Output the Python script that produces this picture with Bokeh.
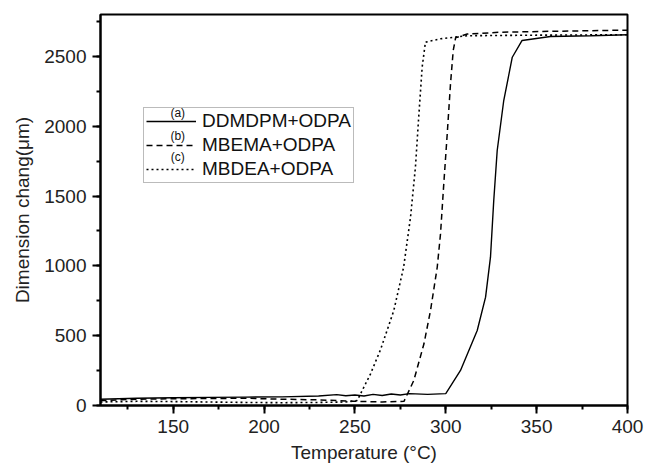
from bokeh.plotting import figure
from bokeh.models import SingleIntervalTicker, Range1d, Legend, LegendItem, Label
from bokeh.embed import file_html
from bokeh.resources import INLINE

# ---- data ----
temp_a = [110, 130, 150, 170, 190, 210, 230, 240, 245, 250, 255, 260, 265, 270, 275, 280, 290, 300,
          308.1, 317.3, 321.9, 324.6, 326.4, 328.3, 331.9, 336.6, 342, 357.6, 380, 400]
dim_a = [45, 52, 55, 58, 60, 62, 68, 78, 70, 75, 68, 80, 72, 82, 75, 85, 80, 85,
         251, 537, 776, 1062, 1468, 1826, 2184, 2494, 2614, 2642, 2648, 2655]

temp_b = [110, 130, 150, 170, 190, 210, 230, 250, 265, 277, 282.4, 288, 291.6, 295.3, 297.1, 298.9,
          300.8, 302.6, 304.1, 305.4, 311.8, 330, 360, 400]
dim_b = [35, 45, 48, 50, 52, 45, 40, 30, 25, 30, 179, 442, 680, 990, 1229, 1587,
         1945, 2303, 2542, 2633, 2660, 2673, 2680, 2688]

temp_c = [110, 130, 150, 170, 190, 210, 230, 245, 251.3, 258.6, 264.1, 271.4, 276.8, 280.6, 283.3,
          285.1, 287, 288.8, 297.1, 311.8, 350, 400]
dim_c = [25, 30, 28, 25, 22, 20, 22, 25, 36, 227, 400, 680, 990, 1348, 1706,
         2064, 2422, 2602, 2626, 2648, 2652, 2655]

series_names = ["DDMDPM+ODPA", "MBEMA+ODPA", "MBDEA+ODPA"]
series_tags = ["(a)", "(b)", "(c)"]

FONT = "Liberation Sans"

p = figure(width=646, height=467, output_backend="svg", toolbar_location=None,
           x_range=Range1d(110, 400), y_range=Range1d(0, 2800),
           min_border_left=100, min_border_right=19, min_border_top=14, min_border_bottom=62)

p.xgrid.visible = False
p.ygrid.visible = False
p.outline_line_color = "black"
p.outline_line_width = 2
p.background_fill_color = "white"
p.border_fill_color = "white"

ra = p.line(temp_a, dim_a, line_color="black", line_width=1.4)
rb = p.line(temp_b, dim_b, line_color="black", line_width=1.5, line_dash="6 4")
rc = p.line(temp_c, dim_c, line_color="black", line_width=1.6, line_dash="2 3")

p.xaxis.ticker = SingleIntervalTicker(interval=50, num_minor_ticks=2)
p.yaxis.ticker = SingleIntervalTicker(interval=500, num_minor_ticks=2)

for ax in (p.xaxis[0], p.yaxis[0]):
    ax.axis_line_width = 2
    ax.axis_line_color = "black"
    ax.major_tick_line_width = 2
    ax.minor_tick_line_width = 2
    ax.major_tick_out = 8
    ax.major_tick_in = 0
    ax.minor_tick_out = 4
    ax.minor_tick_in = 0
    ax.major_label_text_font = FONT
    ax.major_label_text_font_size = "19px"
    ax.major_label_text_color = "#222222"
    ax.axis_label_text_font = FONT
    ax.axis_label_text_font_size = "19px"
    ax.axis_label_text_font_style = "normal"
    ax.axis_label_text_color = "#222222"

p.xaxis.axis_label = "Temperature (°C)"
p.yaxis.axis_label = "Dimension chang(μm)"
p.xaxis.major_label_standoff = 6
p.yaxis.major_label_standoff = 6
p.xaxis.axis_label_standoff = 6
p.yaxis.axis_label_standoff = 8

legend = Legend(items=[LegendItem(label=series_names[0], renderers=[ra]),
                       LegendItem(label=series_names[1], renderers=[rb]),
                       LegendItem(label=series_names[2], renderers=[rc])],
                location=(43, 222), orientation="vertical",
                glyph_width=50, glyph_height=14, label_height=14, spacing=2,
                padding=2, margin=0, label_standoff=6,
                label_text_font=FONT, label_text_font_size="19px", label_text_color="#111111",
                border_line_color="#777777", border_line_width=1.5,
                background_fill_alpha=0.0)
p.add_layout(legend)

# small (a) (b) (c) tags above the legend line samples
tag_y = [2098, 1933, 1776]
for t, yv in zip(series_tags, tag_y):
    p.add_layout(Label(x=152.5, y=yv, text=t, text_align="center", text_baseline="middle",
                       text_font=FONT, text_font_size="12px", text_color="#111111",
                       level="overlay"))

open("out.html", "w").write(file_html(p, INLINE))
